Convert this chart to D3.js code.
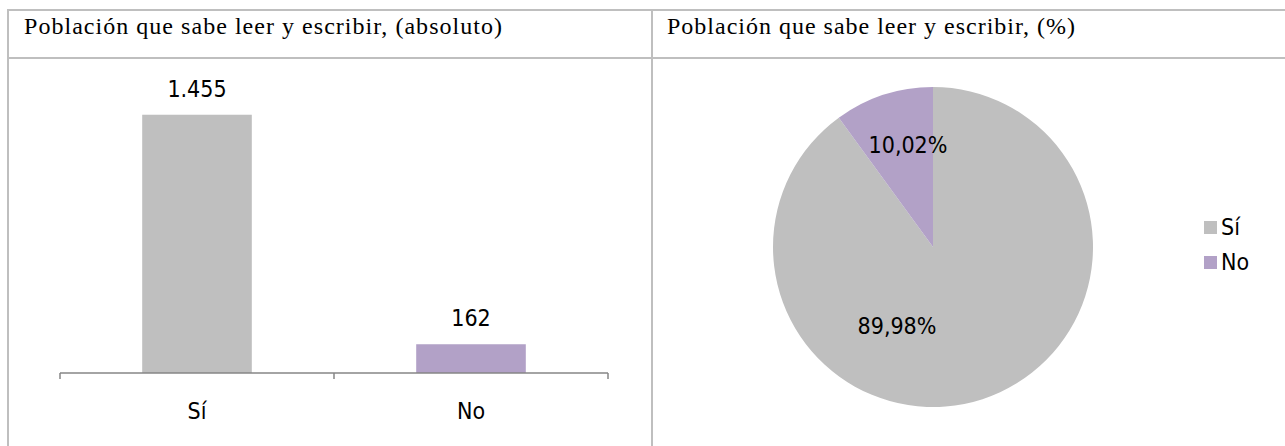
<!DOCTYPE html>
<html>
<head>
<meta charset="utf-8">
<script src="https://cdn.jsdelivr.net/npm/d3@7/dist/d3.min.js"></script>
<style>
  html, body { margin: 0; padding: 0; background: #fff; }
  svg { display: block; }
</style>
</head>
<body>
<div id="chart"></div>
<script>
// data
const categories = ['Sí', 'No']
const absValues = [1455, 162]
const pctValues = [89.98, 10.02]
const barTitle = 'Población que sabe leer y escribir, (absoluto)'
const pieTitle = 'Población que sabe leer y escribir, (%)'

const width = 1285
const height = 446
const colors = ['#bfbfbf', '#b2a1c7']
const gridColor = '#bfbfbf'
const labelFont = '"DejaVu Sans Condensed", "DejaVu Sans", Verdana, sans-serif'
const titleFont = '"Liberation Serif", "Times New Roman", serif'
const labelSize = 23

const formatAbs = v => d3.format(',')(v).replace(/,/g, '.')
const formatPct = v => v.toFixed(2).replace('.', ',') + '%'

const svg = d3.select('#chart')
  .append('svg')
  .attr('width', width)
  .attr('height', height)

// table frame
const frame = svg.append('g')
  .attr('stroke', gridColor)
  .attr('stroke-width', 2)
frame.append('line').attr('x1', 8).attr('x2', width).attr('y1', 10).attr('y2', 10)
frame.append('line').attr('x1', 8).attr('x2', width).attr('y1', 58).attr('y2', 58)
frame.append('line').attr('x1', 8).attr('x2', 8).attr('y1', 9).attr('y2', height)
frame.append('line').attr('x1', 652).attr('x2', 652).attr('y1', 9).attr('y2', height)

svg.append('text')
  .attr('x', 24)
  .attr('y', 34)
  .attr('font-family', titleFont)
  .attr('font-size', 24)
  .attr('textLength', 478)
  .attr('lengthAdjust', 'spacing')
  .text(barTitle)

svg.append('text')
  .attr('x', 667)
  .attr('y', 34)
  .attr('font-family', titleFont)
  .attr('font-size', 24)
  .attr('textLength', 408)
  .attr('lengthAdjust', 'spacing')
  .text(pieTitle)

// bar chart
const barArea = { left: 60, right: 608, top: 89, bottom: 373 }

const x = d3.scaleBand()
  .domain(categories)
  .range([barArea.left, barArea.right])
  .paddingInner(0.6)
  .paddingOuter(0.3)

const xOuter = d3.scaleBand()
  .domain(categories)
  .range([barArea.left, barArea.right])

const y = d3.scaleLinear()
  .domain([0, 1600])
  .range([barArea.bottom, barArea.top])

const barData = categories.map((c, i) => ({ cat: c, value: absValues[i], color: colors[i] }))

svg.append('g')
  .selectAll('rect')
  .data(barData)
  .join('rect')
  .attr('x', d => xOuter(d.cat) + xOuter.bandwidth() / 2 - x.bandwidth() / 2)
  .attr('y', d => y(d.value))
  .attr('width', x.bandwidth())
  .attr('height', d => barArea.bottom - y(d.value))
  .attr('fill', d => d.color)

svg.append('g')
  .selectAll('text')
  .data(barData)
  .join('text')
  .attr('x', d => xOuter(d.cat) + xOuter.bandwidth() / 2)
  .attr('y', d => y(d.value) - 18)
  .attr('text-anchor', 'middle')
  .attr('font-family', labelFont)
  .attr('font-size', labelSize)
  .attr('fill', '#000')
  .text(d => formatAbs(d.value))

// x axis with ticks between categories
const axis = svg.append('g')
  .attr('stroke', '#868686')
  .attr('stroke-width', 1.5)
axis.append('line')
  .attr('x1', barArea.left).attr('x2', barArea.right)
  .attr('y1', barArea.bottom).attr('y2', barArea.bottom)
const tickXs = [barArea.left, ...categories.map(c => xOuter(c) + xOuter.bandwidth())]
axis.selectAll('line.tick')
  .data(tickXs)
  .join('line')
  .attr('class', 'tick')
  .attr('x1', d => d).attr('x2', d => d)
  .attr('y1', barArea.bottom).attr('y2', barArea.bottom + 6)

svg.append('g')
  .selectAll('text')
  .data(categories)
  .join('text')
  .attr('x', d => xOuter(d) + xOuter.bandwidth() / 2)
  .attr('y', barArea.bottom + 46)
  .attr('text-anchor', 'middle')
  .attr('font-family', labelFont)
  .attr('font-size', labelSize)
  .text(d => d)

// pie chart
const pieCenter = { x: 933, y: 247 }
const radius = 160
const pie = d3.pie().sort(null).value(d => d.value)
const arc = d3.arc().innerRadius(0).outerRadius(radius)
const pieData = categories.map((c, i) => ({ cat: c, value: pctValues[i], color: colors[i] }))
const arcs = pie(pieData)

const pieG = svg.append('g')
  .attr('transform', `translate(${pieCenter.x},${pieCenter.y})`)

pieG.selectAll('path')
  .data(arcs)
  .join('path')
  .attr('d', arc)
  .attr('fill', d => d.data.color)

// label offsets (best-fit placement) relative to the pie centre
const labelOffsets = [[-36, 79], [-25, -102]]
pieG.selectAll('text')
  .data(arcs)
  .join('text')
  .attr('x', (d, i) => labelOffsets[i][0])
  .attr('y', (d, i) => labelOffsets[i][1])
  .attr('dy', '0.35em')
  .attr('text-anchor', 'middle')
  .attr('font-family', labelFont)
  .attr('font-size', labelSize)
  .text(d => formatPct(d.data.value))

// legend
const legend = svg.append('g')
  .attr('transform', 'translate(1204,0)')
const legendY = d3.scalePoint().domain(categories).range([227, 262])
legend.selectAll('rect')
  .data(pieData)
  .join('rect')
  .attr('x', 0)
  .attr('y', d => legendY(d.cat) - 6)
  .attr('width', 13)
  .attr('height', 13)
  .attr('fill', d => d.color)
legend.selectAll('text')
  .data(pieData)
  .join('text')
  .attr('x', 17)
  .attr('y', d => legendY(d.cat))
  .attr('dy', '0.35em')
  .attr('font-family', labelFont)
  .attr('font-size', labelSize)
  .text(d => d.cat)
</script>
</body>
</html>
